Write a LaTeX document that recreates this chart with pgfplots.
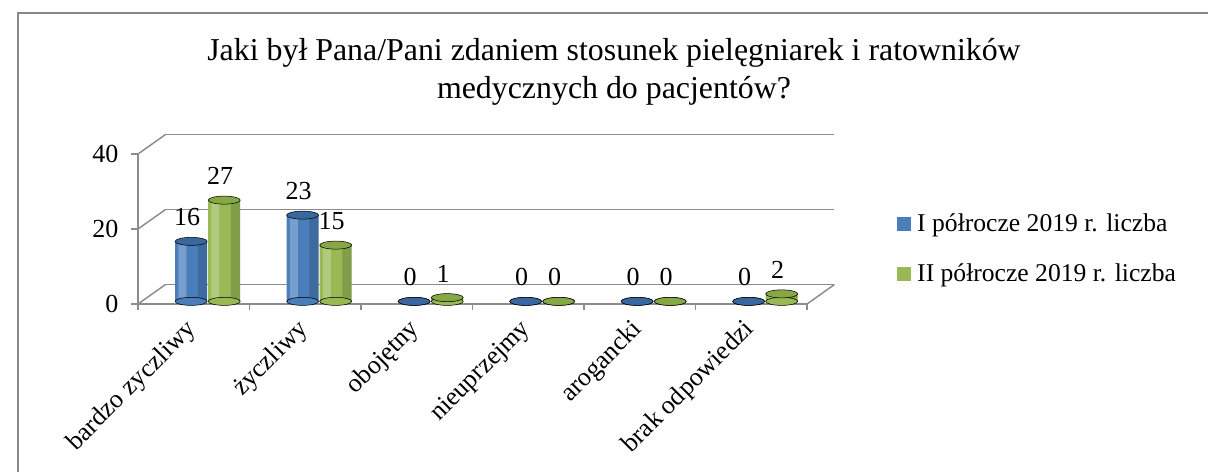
\documentclass[border=0pt]{standalone}
\usepackage{pgfplots}
\usepackage{pgfplotstable}
\pgfplotsset{compat=1.18}
\usetikzlibrary{calc}
\usepackage{fontspec}
\setmainfont{Liberation Serif}
\definecolor{serA}{HTML}{4A7EBB}
\definecolor{serAcap}{HTML}{3A679F}
\definecolor{serB}{HTML}{98B954}
\definecolor{serBcap}{HTML}{86A946}
\definecolor{gridc}{HTML}{8C8C8C}
\definecolor{framec}{HTML}{888888}
\pgfplotstableread{
x a b
0 16 27
1 23 15
2 0 1
3 0 0
4 0 0
5 0 2
}\datatable
\newcommand{\tfont}{\fontsize{23.9pt}{28pt}\selectfont}
\newcommand{\lfont}{\fontsize{19.5pt}{22pt}\selectfont}
\newcommand{\gfont}{\fontsize{19.2pt}{22pt}\selectfont}
\begin{document}
\begin{tikzpicture}[x=0.75pt,y=0.75pt]
% front axis (walls, ticks, legend)
\begin{axis}[at={(0,0)}, anchor=south west, scale only axis,
  width=501.75pt, height=112.5pt,
  xmin=-0.5, xmax=5.5, ymin=0, ymax=40,
  clip=false,
  axis x line*=bottom, axis y line*=left,
  axis line style={gridc, line width=1.1pt},
  ytick={0,20,40},
  xtick={0,...,5},
  xticklabels={bardzo zyczliwy, życzliwy, obojętny, nieuprzejmy, arogancki, brak odpowiedzi},
  minor xtick={-0.5,0.5,1.5,2.5,3.5,4.5,5.5},
  major x tick style={draw=none},
  tick style={gridc, line width=1.1pt},
  tick align=outside,
  major tick length=5.25pt, minor tick length=4.5pt,
  /pgf/number format/assume math mode=true,
  ticklabel style={font=\lfont},
  yticklabel style={xshift=-6pt},
  xticklabel style={rotate=45, anchor=north east, xshift=-5pt, yshift=5pt},
  legend style={at={(1.1345,0.367)}, anchor=west, draw=none, fill=none,
    font=\gfont, inner sep=0pt, row sep=18.5pt, nodes={inner sep=2pt},
    /tikz/every odd column/.append style={column sep=2.5pt}},
  legend cell align=left,
  legend image code/.code={\fill[#1, draw=none] (0pt,-5.25pt) rectangle (10.5pt,5.25pt);},
]
\addlegendimage{fill=serA, draw=none}
\addlegendentry{I półrocze 2019 r. liczba}
\addlegendimage{fill=serB, draw=none}
\addlegendentry{II półrocze 2019 r. liczba}
\coordinate (O) at (axis cs:-0.5,0);
\foreach \v in {0,20,40} {
  \edef\tmp{\noexpand\draw[gridc, line width=1.1pt] (axis cs:-0.5,\v) -- ++(20.6pt,14.6pt);
  \noexpand\draw[gridc, line width=1.1pt] ([shift={(20.6pt,14.6pt)}]axis cs:-0.5,\v) -- ([shift={(20.6pt,14.6pt)}]axis cs:5.5,\v);}
  \tmp
}
\draw[gridc, line width=1.1pt] (axis cs:5.5,0) -- ++(20.6pt,14.6pt);
\end{axis}
% bars axis
\begin{axis}[at={(12.5,7)}, anchor=south west, scale only axis,
  width=501.75pt, height=112.5pt,
  xmin=-0.5, xmax=5.5, ymin=0, ymax=40,
  clip=false, axis lines=none,
  /pgf/number format/assume math mode=true,
  nodes near coords style={font=\lfont, anchor=center},
]
% series A
\addplot[only marks, mark=*, mark size=12pt, mark options={xshift=-12.4pt, yscale=0.25, fill=serA, draw=none}] coordinates {(0,0) (1,0) (2,0) (3,0) (4,0) (5,0)};
\addplot[ybar, bar width=24pt, bar shift=-12.4pt, fill=serA, draw=none] table[x=x, y=a] {\datatable};
\addplot[ybar, bar width=6pt, bar shift=-19pt, fill=white, fill opacity=0.25, draw=none] table[x=x, y=a] {\datatable};
\addplot[ybar, bar width=7pt, bar shift=-3.9pt, fill=black, fill opacity=0.15, draw=none] table[x=x, y=a] {\datatable};
\addplot[only marks, mark=*, mark size=12pt, mark options={xshift=-12.4pt, yscale=0.25, fill=serAcap, draw=none},
  nodes near coords, point meta=y, nodes near coords style={xshift=-3pt, yshift=18pt}] table[x=x, y=a] {\datatable};
% series B
\addplot[only marks, mark=*, mark size=12pt, mark options={xshift=12.4pt, yscale=0.25, fill=serB, draw=none}] coordinates {(0,0) (1,0) (2,0) (3,0) (4,0) (5,0)};
\addplot[ybar, bar width=24pt, bar shift=12.4pt, fill=serB, draw=none] table[x=x, y=b] {\datatable};
\addplot[ybar, bar width=6pt, bar shift=5.8pt, fill=white, fill opacity=0.25, draw=none] table[x=x, y=b] {\datatable};
\addplot[ybar, bar width=7pt, bar shift=20.9pt, fill=black, fill opacity=0.15, draw=none] table[x=x, y=b] {\datatable};
\addplot[only marks, mark=*, mark size=12pt, mark options={xshift=12.4pt, yscale=0.25, fill=serBcap, draw=none},
  nodes near coords, point meta=y, nodes near coords style={xshift=-3pt, yshift=18pt}] table[x=x, y=b] {\datatable};
\end{axis}
\draw[framec, line width=1.5pt] ($(O)+(-120,-168)$) -- ($(O)+(-120,291)$) -- ($(O)+(1070,291)$);
\node[font=\tfont, align=center] at ($(O)+(476,232)$) {Jaki był Pana/Pani zdaniem stosunek pielęgniarek i ratowników\\medycznych do pacjentów?};
\pgfresetboundingbox
\useasboundingbox ($(O)+(-138,-168)$) rectangle ($(O)+(1070,304)$);
\end{tikzpicture}
\end{document}
